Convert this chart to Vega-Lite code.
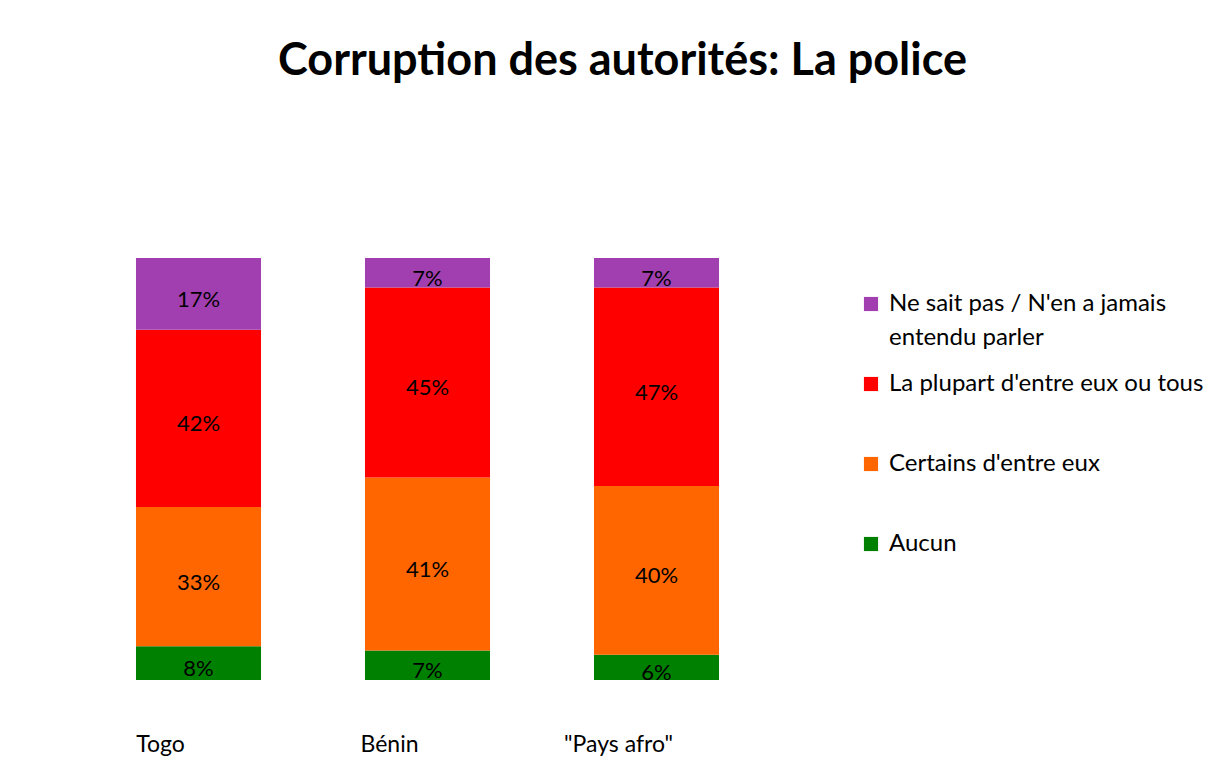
{
  "$schema": "https://vega.github.io/schema/vega-lite/v6.json",
  "autosize": {"type": "none"},
  "width": 687,
  "height": 422,
  "padding": {"left": 84, "top": 258, "right": 458, "bottom": 104},
  "background": "white",
  "title": {
    "text": "Corruption des autorités: La police",
    "font": "Lato",
    "fontSize": 45,
    "fontWeight": "bold",
    "color": "black",
    "anchor": "middle",
    "frame": "group",
    "dx": 195,
    "offset": 174
  },
  "data": {
    "values": [
      {"pays": "Togo", "reponse": "Aucun", "rang": 1, "pct": 8},
      {"pays": "Togo", "reponse": "Certains d'entre eux", "rang": 2, "pct": 33},
      {"pays": "Togo", "reponse": "La plupart d'entre eux ou tous", "rang": 3, "pct": 42},
      {"pays": "Togo", "reponse": "Ne sait pas / N'en a jamais entendu parler", "rang": 4, "pct": 17},
      {"pays": "Bénin", "reponse": "Aucun", "rang": 1, "pct": 7},
      {"pays": "Bénin", "reponse": "Certains d'entre eux", "rang": 2, "pct": 41},
      {"pays": "Bénin", "reponse": "La plupart d'entre eux ou tous", "rang": 3, "pct": 45},
      {"pays": "Bénin", "reponse": "Ne sait pas / N'en a jamais entendu parler", "rang": 4, "pct": 7},
      {"pays": "\"Pays afro\"", "reponse": "Aucun", "rang": 1, "pct": 6},
      {"pays": "\"Pays afro\"", "reponse": "Certains d'entre eux", "rang": 2, "pct": 40},
      {"pays": "\"Pays afro\"", "reponse": "La plupart d'entre eux ou tous", "rang": 3, "pct": 47},
      {"pays": "\"Pays afro\"", "reponse": "Ne sait pas / N'en a jamais entendu parler", "rang": 4, "pct": 7}
    ]
  },
  "transform": [
    {"stack": "pct", "groupby": ["pays"], "sort": [{"field": "rang", "order": "ascending"}], "as": ["y0", "y1"]},
    {"calculate": "(datum.y0 + datum.y1) / 2", "as": "ymid"},
    {"calculate": "datum.pct + '%'", "as": "etiquette"}
  ],
  "encoding": {
    "x": {
      "field": "pays",
      "type": "nominal",
      "sort": ["Togo", "Bénin", "\"Pays afro\""],
      "scale": {"paddingInner": 0, "paddingOuter": 0},
      "axis": {
        "title": null,
        "domain": false,
        "ticks": false,
        "labelAngle": 0,
        "labelFont": "Lato",
        "labelFontSize": 23,
        "labelColor": "black",
        "labelPadding": 53,
        "labelOffset": -38,
        "grid": false
      }
    }
  },
  "layer": [
    {
      "mark": {"type": "bar", "width": {"band": 0.546}},
      "encoding": {
        "y": {"field": "y0", "type": "quantitative", "scale": {"domain": [0, 100]}, "axis": null},
        "y2": {"field": "y1"},
        "color": {
          "field": "reponse",
          "type": "nominal",
          "scale": {
            "domain": ["Ne sait pas / N'en a jamais entendu parler", "La plupart d'entre eux ou tous", "Certains d'entre eux", "Aucun"],
            "range": ["#A23FB0", "#FF0000", "#FF6600", "#008000"]
          },
          "legend": {
            "title": null,
            "orient": "none",
            "legendX": 775,
            "legendY": 34,
            "symbolType": "square",
            "symbolSize": 200,
            "symbolStrokeWidth": 0,
            "labelFont": "Lato",
            "labelFontSize": 24,
            "labelColor": "black",
            "labelLimit": 400,
            "labelOffset": 6,
            "rowPadding": 22,
            "labelExpr": "datum.label == \"Ne sait pas / N'en a jamais entendu parler\" ? [\"Ne sait pas / N'en a jamais\", \"entendu parler\"] : [datum.label, ' ']",
            "encode": {
              "labels": {"update": {"lineHeight": {"value": 34}}}
            }
          }
        }
      }
    },
    {
      "mark": {"type": "text", "font": "Lato", "fontSize": 22, "color": "black", "baseline": "middle", "dy": 6},
      "encoding": {
        "y": {"field": "ymid", "type": "quantitative", "scale": {"domain": [0, 100]}},
        "text": {"field": "etiquette", "type": "nominal"},
        "detail": {"field": "reponse"}
      }
    }
  ],
  "config": {
    "view": {"stroke": null}
  }
}
